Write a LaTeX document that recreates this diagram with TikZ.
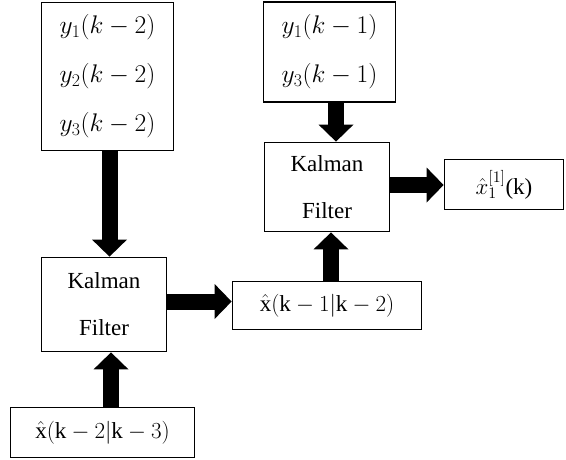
\RequirePackage{fix-cm}
\documentclass[tikz,border=0pt]{standalone}
\usepackage{fontspec}
\setmainfont{Liberation Serif}
\usetikzlibrary{arrows.meta}
\begin{document}
\begin{tikzpicture}[x=1pt,y=-1pt,
  box/.style={draw, line width=1.8pt, inner sep=0pt, align=center, font=\fontsize{23}{49}\selectfont},
  ybox/.style={box, font=\fontsize{25.5}{49}\selectfont},
  kf/.style={box, font=\fontsize{23}{47}\selectfont},
  bigarrow/.style={line width=16pt, -{Triangle[length=17pt 0 0,width=35pt 0 0,line width=0pt 0 0]}}]
\useasboundingbox (0,0) rectangle (566,459);
\node[ybox, minimum width=132pt, minimum height=148pt] (A) at (107.5,76.5) {$y_1(k-2)$\\$y_2(k-2)$\\$y_3(k-2)$};
\node[kf, minimum width=125pt, minimum height=94pt] (K1) at (104,304.5) {Kalman\\Filter};
\node[box, minimum width=184pt, minimum height=50pt] (X3) at (102.5,432.5) {$\hat{\mathrm{x}}(\mathrm{k}-2|\mathrm{k}-3)$};
\node[box, minimum width=189pt, minimum height=48pt] (M) at (327,305.5) {$\hat{\mathrm{x}}(\mathrm{k}-1|\mathrm{k}-2)$};
\node[ybox, minimum width=132pt, minimum height=100pt] (B) at (329.5,52) {$y_1(k-1)$\\$y_3(k-1)$};
\node[kf, minimum width=125pt, minimum height=89pt] (K2) at (327,187) {Kalman\\Filter};
\node[box, minimum width=119pt, minimum height=50pt] (R) at (504,184.5) {$\hat{x}_1^{[1]}$(k)};
\draw[bigarrow] ([xshift=2pt]A.south) -- ([xshift=2pt]A.south |- K1.north);
\draw[bigarrow] ([xshift=8.5pt]X3.north) -- ([xshift=8.5pt]X3.north |- K1.south);
\draw[bigarrow] ([yshift=3pt]K1.east) -- ([yshift=3pt]K1.east -| M.west);
\draw[bigarrow] ([xshift=4pt]M.north) -- ([xshift=4pt]M.north |- K2.south);
\draw[bigarrow] ([xshift=6.5pt]B.south) -- ([xshift=6.5pt]B.south |- K2.north);
\draw[bigarrow] ([yshift=2pt]K2.east) -- ([yshift=2pt]K2.east -| R.west);
\end{tikzpicture}
\end{document}
